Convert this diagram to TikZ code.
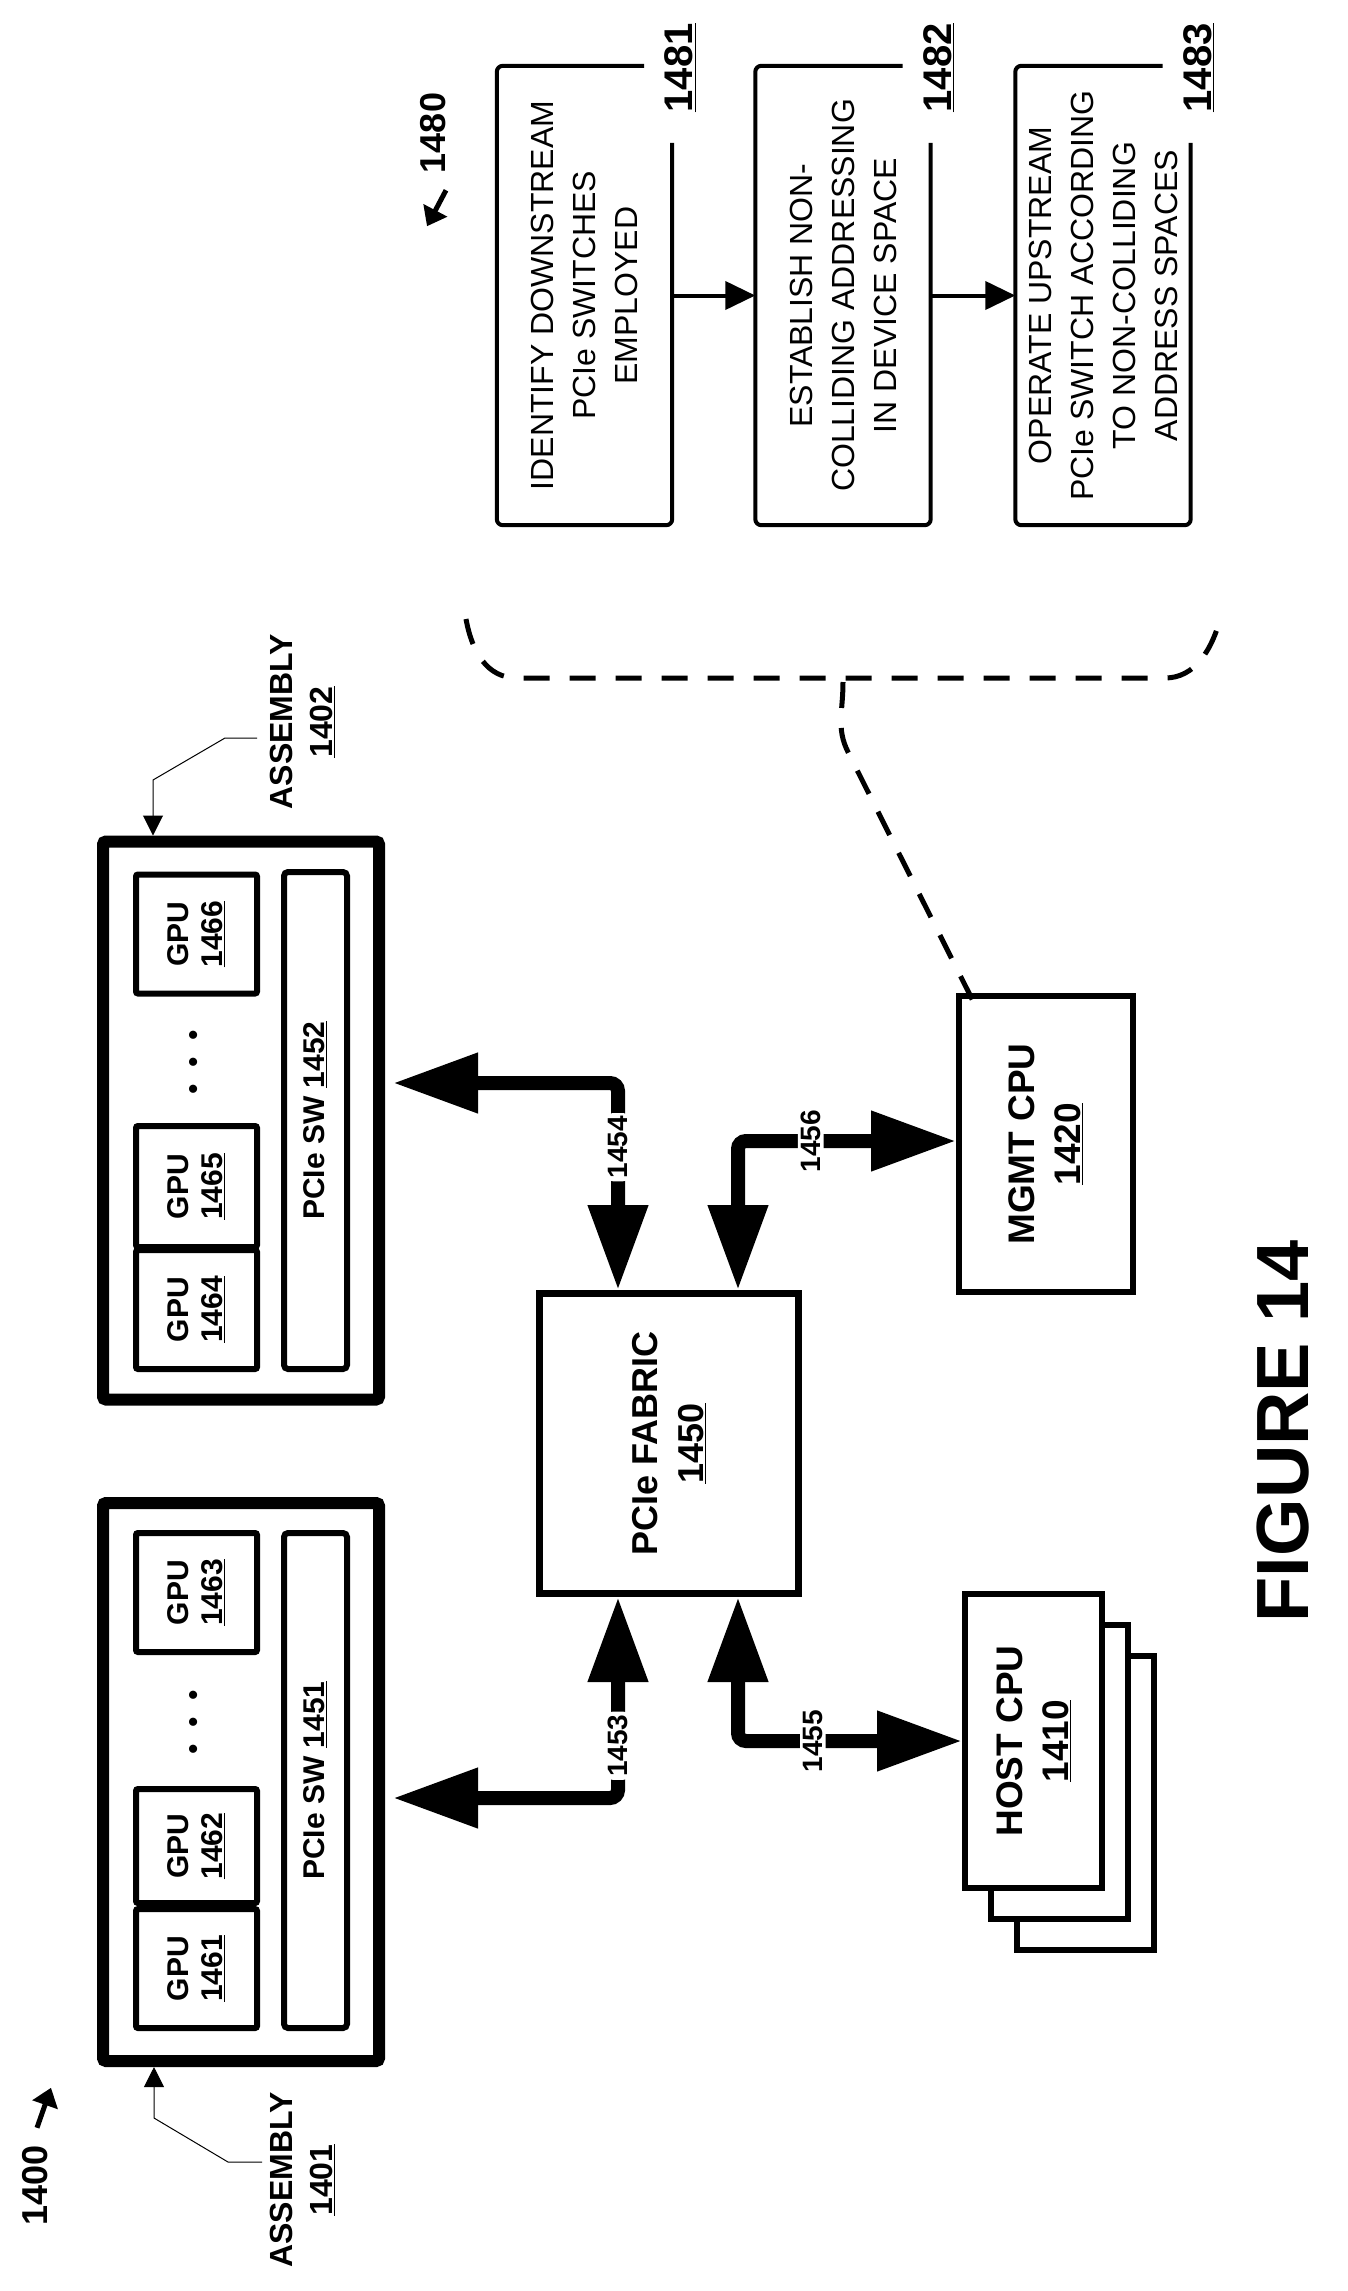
\documentclass[tikz,border=0pt]{standalone}
\usepackage{fontspec}
\setmainfont{Liberation Sans}
\usetikzlibrary{arrows.meta, positioning, calc}
\tikzset{
    x=1pt, y=-1pt, % picture measured in pixels, y grows downwards
    every node/.style={rotate=90, inner sep=0pt, align=center},
    assembly/.style={draw, line width=12pt, rounded corners=3pt,
        minimum width=558pt, minimum height=276pt},
    gpu/.style={draw, line width=6pt, rounded corners=2pt,
        minimum height=121pt, font=\fontsize{30}{34}\selectfont\bfseries},
    switch/.style={draw, line width=6pt, rounded corners=4pt,
        minimum height=63pt, font=\fontsize{30}{34}\selectfont\bfseries},
    unit/.style={draw, fill=white, line width=6pt,
        font=\fontsize{37}{46}\selectfont\bfseries},
    flowstep/.style={minimum width=459pt, minimum height=175pt,
        font=\fontsize{32}{42}\selectfont},
    stepline/.style={line width=4pt, rounded corners=6pt},
    steptip/.style={line width=4pt, -{Triangle[length=30pt 0, width=28pt 0]}},
    bus/.style={line width=14pt, rounded corners=8pt,
        {Triangle[length=85pt 0, width=57pt 0]}-{Triangle[length=85pt 0, width=57pt 0]}},
    busnum/.style={fill=white, inner sep=3pt, font=\fontsize{28}{30}\selectfont\bfseries},
    callout/.style={line width=1pt, -{Triangle[length=20pt 0, width=20pt 0]}},
    refarrow/.style={line width=5pt, -{Triangle[length=18pt 0, width=26pt 0]}},
    refnum/.style={font=\fontsize{36}{40}\selectfont\bfseries},
    brace/.style={line width=5pt, dash pattern=on 26pt off 20pt},
}

\begin{document}
\begin{tikzpicture}
    \useasboundingbox (0,0) rectangle (1348,2291);

    % assemblies
    \node[assembly] (asm1) at (241,1782) {};
    \node[assembly] (asm2) at (241,1120.5) {};
    \node[gpu, minimum width=119pt] (gpu1461) at (196.5,1968.5) {GPU\\\underline{1461}};
    \node[gpu, minimum width=114pt] (gpu1462) at (196.5,1846) {GPU\\\underline{1462}};
    \node[gpu, minimum width=119pt] (gpu1463) at (196.5,1592.5) {GPU\\\underline{1463}};
    \node[gpu, minimum width=119pt] (gpu1464) at (196.5,1309.5) {GPU\\\underline{1464}};
    \node[gpu, minimum width=121pt] (gpu1465) at (196.5,1186.5) {GPU\\\underline{1465}};
    \node[gpu, minimum width=119pt] (gpu1466) at (196.5,934) {GPU\\\underline{1466}};
    \node[font=\fontsize{30}{30}\selectfont] (dots1) at (196,1722) {\textbullet\ \ \textbullet\ \ \textbullet};
    \node[font=\fontsize{30}{30}\selectfont] (dots2) at (196,1062) {\textbullet\ \ \textbullet\ \ \textbullet};
    \node[switch, minimum width=495pt] (sw1451) at (315.5,1780.5) {PCIe SW \underline{1451}};
    \node[switch, minimum width=497pt] (sw1452) at (315.5,1120.5) {PCIe SW \underline{1452}};

    \node[font=\fontsize{32}{40}\selectfont\bfseries] (lbl1401) at (302,2180) {ASSEMBLY\\\underline{1401}};
    \node[font=\fontsize{32}{40}\selectfont\bfseries] (lbl1402) at (302,722) {ASSEMBLY\\\underline{1402}};
    \coordinate (c1401) at (262,2162);
    \coordinate (c1402) at (257,738);
    \draw[callout] (c1401) -- (228,2162) -- (154,2118) -- ($(asm1.west)+(-87,0)$);
    \draw[callout] (c1402) -- (225,738) -- (153,780) -- ($(asm2.east)+(-88,0)$);

    % fabric and CPUs
    \node[unit, line width=7pt, minimum width=300pt, minimum height=259pt,
          font=\fontsize{36}{46}\selectfont\bfseries] (fab) at (669,1443.5) {PCIe FABRIC\\\underline{1450}};
    \node[unit, minimum width=296pt, minimum height=174pt] (mgmt) at (1046,1144) {MGMT CPU\\\underline{1420}};
    \node[unit, minimum width=294pt, minimum height=137pt] (host3) at (1085.5,1803) {};
    \node[unit, minimum width=294pt, minimum height=137pt] (host2) at (1059.5,1772) {};
    \node[unit, minimum width=294pt, minimum height=137pt] (host1) at (1033.5,1741) {HOST CPU\\\underline{1410}};

    \draw[bus] ($(fab.west)+(-51,0)$) |- node[busnum, pos=0.37] (b1453) {1453} ($(asm1.south)+(8,16)$);
    \draw[bus] ($(fab.east)+(-51,0)$) |- node[busnum, pos=0.345] (b1454) {1454} ($(asm2.south)+(8,-37.5)$);
    \draw[bus] ($(fab.west)+(69,0)$) |- node[busnum, pos=0.667] (b1455) {1455} (host1.north);
    \draw[bus] ($(fab.east)+(69,0)$) |- node[busnum, pos=0.667] (b1456) {1456} ($(mgmt.north)+(0,-3)$);

    % flow 1480
    \node[flowstep] (f1481) at (584.5,295.5) {IDENTIFY DOWNSTREAM\\PCIe SWITCHES\\EMPLOYED};
    \node[flowstep] (f1482) at (843,295.5) {ESTABLISH NON-\\COLLIDING ADDRESSING\\IN DEVICE SPACE};
    \node[flowstep] (f1483) at (1103,295.5) {OPERATE UPSTREAM\\PCIe SWITCH ACCORDING\\TO NON-COLLIDING\\ADDRESS SPACES};
    \foreach \f/\n in {f1481/1481, f1482/1482, f1483/1483} {
        \draw[stepline] ($(\f.south east)+(-28,0)$) -- (\f.north east) -- (\f.north west)
            -- (\f.south west) -- ($(\f.south east)+(0,77)$);
        \node[font=\fontsize{40}{40}\selectfont\bfseries] (n\n) at ($(\f.south east)+(8,2)$) {\underline{\n}};
    }
    \draw[steptip] (f1481.south) -- (f1482.north);
    \draw[steptip] (f1482.south) -- (f1483.north);

    \node[refnum] (n1480) at (433,133) {1480};
    \draw[refarrow] ($(n1480.west)+(13,17)$) -- ++(-19,36);
    \node[refnum] (n1400) at (35,2185) {1400};
    \draw[refarrow] ($(n1400.east)+(2,-17)$) -- ++(14,-40);

    % dashed brace to the management CPU
    \draw[brace] (466,619) .. controls (472,652) and (487,678) .. (517,678) -- (1165,678)
        .. controls (1195,678) and (1212,650) .. (1221,616);
    \coordinate (tip) at (843,682);
    \draw[brace] (tip) .. controls (843,712) and (836,728) .. (848,752) -- ($(mgmt.center)+(-66,-129)$);

    \node[font=\fontsize{74}{74}\selectfont\bfseries] (fig) at (1283,1431) {FIGURE 14};
\end{tikzpicture}
\end{document}
